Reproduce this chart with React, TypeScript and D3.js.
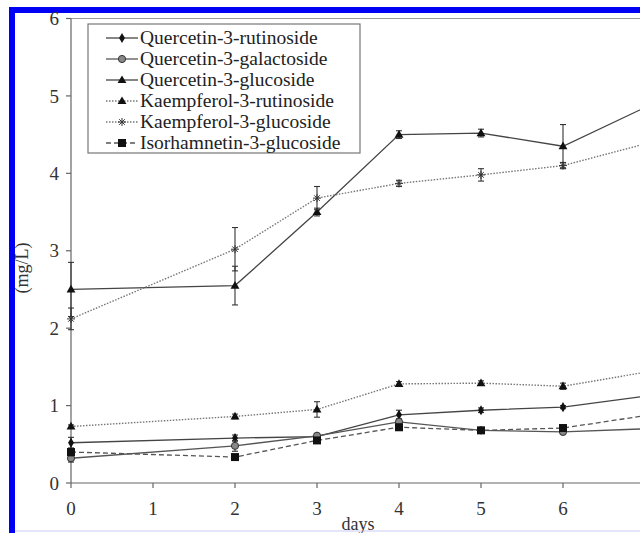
import React from "react";
import * as d3 from "d3";

const days = [0, 2, 3, 4, 5, 6, 7];
const xTicks = [0, 1, 2, 3, 4, 5, 6, 7];
const xTickLabels = ["0", "1", "2", "3", "4", "5", "6"];
const yTicks = [0, 1, 2, 3, 4, 5, 6];

const seriesNames = [
  "Quercetin-3-rutinoside",
  "Quercetin-3-galactoside",
  "Quercetin-3-glucoside",
  "Kaempferol-3-rutinoside",
  "Kaempferol-3-glucoside",
  "Isorhamnetin-3-glucoside",
];

const q3rut = [0.52, 0.58, 0.6, 0.88, 0.94, 0.98, 1.12];
const q3gal = [0.32, 0.48, 0.61, 0.79, 0.68, 0.66, 0.7];
const q3glu = [2.5, 2.55, 3.5, 4.5, 4.52, 4.35, 4.85];
const k3rut = [0.73, 0.86, 0.95, 1.28, 1.29, 1.25, 1.43];
const k3glu = [2.12, 3.02, 3.68, 3.87, 3.98, 4.1, 4.38];
const i3glu = [0.4, 0.335, 0.55, 0.72, 0.68, 0.71, 0.87];

const q3rutErr = [0.07, 0.04, 0.02, 0.06, 0.03, 0.02, 0.02];
const q3galErr = [0.05, 0.07, 0.03, 0.04, 0.02, 0.03, 0.02];
const q3gluErr = [0.35, 0.25, 0.05, 0.05, 0.05, 0.28, 0.1];
const k3rutErr = [0.02, 0.03, 0.1, 0.03, 0.03, 0.04, 0.03];
const k3gluErr = [0.14, 0.28, 0.15, 0.04, 0.08, 0.04, 0.05];
const i3gluErr = [0.05, 0.03, 0.03, 0.04, 0.02, 0.03, 0.02];

const values = [q3rut, q3gal, q3glu, k3rut, k3glu, i3glu];
const errors = [q3rutErr, q3galErr, q3gluErr, k3rutErr, k3gluErr, i3gluErr];

type Style = { stroke: string; dash: string; marker: string; fill: string; width: number };
const styles: Style[] = [
  { stroke: "#444", dash: "", marker: "diamond", fill: "#111", width: 1.3 },
  { stroke: "#555", dash: "", marker: "circle", fill: "#888", width: 1.3 },
  { stroke: "#444", dash: "", marker: "triangle", fill: "#111", width: 1.3 },
  { stroke: "#777", dash: "1.5,1.5", marker: "triangle", fill: "#111", width: 1.4 },
  { stroke: "#777", dash: "1.5,1.5", marker: "asterisk", fill: "#333", width: 1.4 },
  { stroke: "#555", dash: "5,3", marker: "square", fill: "#111", width: 1.3 },
];

const W = 640;
const H = 533;
const x = d3.scaleLinear().domain([0, 7]).range([71, 645]);
const y = d3.scaleLinear().domain([0, 6]).range([483, 18.5]);

function Marker({ kind, cx, cy, fill }: { kind: string; cx: number; cy: number; fill: string }) {
  if (kind === "diamond") {
    const p = d3.symbol(d3.symbolDiamond, 30)();
    return <path d={p || ""} transform={`translate(${cx},${cy})`} fill={fill} />;
  }
  if (kind === "circle") {
    return <circle cx={cx} cy={cy} r={3.6} fill={fill} stroke="#333" strokeWidth={1} />;
  }
  if (kind === "triangle") {
    const p = d3.symbol(d3.symbolTriangle, 34)();
    return <path d={p || ""} transform={`translate(${cx},${cy + 0.5})`} fill={fill} />;
  }
  if (kind === "square") {
    return <rect x={cx - 4} y={cy - 4} width={8} height={8} fill={fill} />;
  }
  const r = 4;
  return (
    <g stroke={fill} strokeWidth={1} transform={`translate(${cx},${cy})`}>
      <line x1={-r} y1={0} x2={r} y2={0} />
      <line x1={0} y1={-r} x2={0} y2={r} />
      <line x1={-r * 0.7} y1={-r * 0.7} x2={r * 0.7} y2={r * 0.7} />
      <line x1={-r * 0.7} y1={r * 0.7} x2={r * 0.7} y2={-r * 0.7} />
    </g>
  );
}

export default function App() {
  const line = d3
    .line<number>()
    .x((_, i) => x(days[i]))
    .y((d) => y(d));

  const font = "'Liberation Serif', 'Times New Roman', serif";
  const legendX = 88;
  const legendY = 24;
  const rowH = 21;

  return (
    <svg
      width={W}
      height={H}
      style={{ position: "absolute", left: 0, top: 0, background: "#fff" }}
      fontFamily={font}
    >
      <rect x={0} y={0} width={W} height={H} fill="#fff" />
      <rect x={9} y={7} width={W - 9} height={6} fill="#0000f5" />
      <rect x={9} y={7} width={6} height={H - 7} fill="#0000f5" />
      <line x1={15} x2={W} y1={531} y2={531} stroke="#e4e4fb" strokeWidth={2} />

      <line x1={x(0)} x2={W} y1={y(6)} y2={y(6)} stroke="#999" strokeWidth={1.2} />
      <line x1={x(0)} x2={x(0)} y1={y(0)} y2={y(6)} stroke="#666" strokeWidth={1.2} />
      <line x1={x(0)} x2={W} y1={y(0)} y2={y(0)} stroke="#666" strokeWidth={1.2} />

      {yTicks.map((t) => (
        <g key={"y" + t}>
          <line x1={x(0) - 5} x2={x(0)} y1={y(t)} y2={y(t)} stroke="#666" strokeWidth={1.2} />
          <text x={x(0) - 12} y={y(t)} dy="0.35em" textAnchor="end" fontSize={19} fill="#333">
            {t}
          </text>
        </g>
      ))}
      {xTicks.map((t) => (
        <line key={"xt" + t} x1={x(t)} x2={x(t)} y1={y(0)} y2={y(0) + 5} stroke="#666" strokeWidth={1.2} />
      ))}
      {xTickLabels.map((lab, i) => (
        <text key={"xl" + i} x={x(xTicks[i])} y={515} textAnchor="middle" fontSize={19} fill="#333">
          {lab}
        </text>
      ))}
      <text x={358} y={530} textAnchor="middle" fontSize={18} fill="#333">
        days
      </text>
      <text
        transform={`translate(28,268) rotate(-90)`}
        textAnchor="middle"
        fontSize={18}
        fill="#333"
      >
        (mg/L)
      </text>

      {values.map((vals, si) => {
        const st = styles[si];
        return (
          <g key={"s" + si}>
            <path
              d={line(vals) || ""}
              fill="none"
              stroke={st.stroke}
              strokeWidth={st.width}
              strokeDasharray={st.dash || undefined}
            />
            {vals.map((v, i) => {
              const e = errors[si][i];
              const cx = x(days[i]);
              return (
                <g key={i} stroke="#333" strokeWidth={1.1}>
                  <line x1={cx} x2={cx} y1={y(v - e)} y2={y(v + e)} />
                  <line x1={cx - 3} x2={cx + 3} y1={y(v - e)} y2={y(v - e)} />
                  <line x1={cx - 3} x2={cx + 3} y1={y(v + e)} y2={y(v + e)} />
                </g>
              );
            })}
            {vals.map((v, i) => (
              <Marker key={"m" + i} kind={st.marker} cx={x(days[i])} cy={y(v)} fill={st.fill} />
            ))}
          </g>
        );
      })}

      <rect
        x={legendX}
        y={legendY}
        width={272}
        height={129}
        fill="#fff"
        stroke="#777"
        strokeWidth={1.2}
      />
      {seriesNames.map((name, i) => {
        const st = styles[i];
        const cy = legendY + 14 + i * rowH;
        return (
          <g key={"l" + i}>
            <line
              x1={106}
              x2={138}
              y1={cy}
              y2={cy}
              stroke={st.stroke}
              strokeWidth={st.width}
              strokeDasharray={st.dash || undefined}
            />
            <Marker kind={st.marker} cx={122} cy={cy} fill={st.fill} />
            <text x={140} y={cy} dy="0.33em" fontSize={19.5} fill="#222">
              {name}
            </text>
          </g>
        );
      })}
    </svg>
  );
}
